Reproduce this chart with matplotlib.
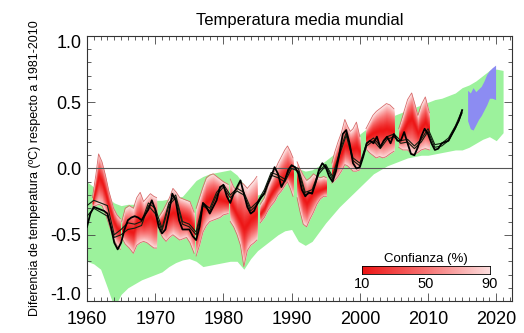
import numpy as np
import matplotlib
matplotlib.use("Agg")
import matplotlib.pyplot as plt
from matplotlib.colors import LinearSegmentedColormap
from matplotlib.ticker import MultipleLocator, FormatStrFormatter
from matplotlib.transforms import ScaledTranslation

plt.rcParams["font.family"] = ["Liberation Sans", "DejaVu Sans"]

# ----------------------------
# Data
# ----------------------------
GREEN_YEARS = list(range(1960, 2022))
GREEN_HIGH = [-0.10, -0.14, -0.18, -0.22, -0.26, -0.28, -0.27, -0.27, -0.26, -0.25,
              -0.24, -0.24, -0.23, -0.22, -0.21, -0.15, -0.09, -0.06, -0.04, -0.03,
              -0.02, -0.01, -0.05, -0.12, -0.18, -0.20, -0.18, -0.10, -0.04, 0.00,
              0.02, 0.00, -0.02, -0.01, 0.02, 0.06, 0.10, 0.15, 0.19, 0.22,
              0.26, 0.30, 0.33, 0.36, 0.38, 0.40, 0.42, 0.44, 0.46, 0.48,
              0.50, 0.52, 0.53, 0.55, 0.57, 0.61, 0.63, 0.66, 0.70, 0.74,
              0.75, 0.74]
GREEN_LOW = [-0.70, -0.72, -0.76, -0.90, -1.05, -0.95, -0.90, -0.87, -0.84, -0.82,
             -0.80, -0.78, -0.74, -0.71, -0.69, -0.68, -0.70, -0.74, -0.73, -0.72,
             -0.71, -0.70, -0.70, -0.76, -0.68, -0.62, -0.58, -0.54, -0.50, -0.47,
             -0.46, -0.55, -0.58, -0.55, -0.48, -0.41, -0.35, -0.29, -0.24, -0.19,
             -0.14, -0.09, -0.04, -0.01, 0.02, 0.04, 0.06, 0.08, 0.09, 0.10,
             0.10, 0.11, 0.12, 0.13, 0.14, 0.14, 0.16, 0.19, 0.22, 0.24,
             0.21, 0.27]

# red confidence patches, one sublist per forecast period
RED_YEARS = [
    [1960.8, 1961.3, 1961.7, 1962.2, 1962.7, 1963.2, 1963.9, 1964.4, 1964.9],
    [1965.1, 1965.6, 1966.2, 1966.8, 1967.3, 1967.8, 1968.3, 1968.8, 1969.3, 1969.8, 1970.2],
    [1970.6, 1971.1, 1971.6, 1972.1, 1972.6, 1973.1, 1973.6, 1974.1, 1974.6, 1975.1, 1975.7],
    [1976.0, 1976.5, 1977.0, 1977.5, 1978.0, 1978.5, 1979.0, 1979.5, 1980.0, 1980.7],
    [1981.0, 1981.5, 1982.0, 1982.5, 1983.0, 1983.5, 1984.0, 1984.5, 1984.9],
    [1985.4, 1986.0, 1986.5, 1987.0, 1987.5, 1988.0, 1988.5, 1989.0, 1989.4, 1989.8, 1990.2],
    [1990.8, 1991.2, 1991.7, 1992.2, 1992.7, 1993.2, 1993.7, 1994.2, 1994.7, 1995.1],
    [1995.9, 1996.3, 1996.8, 1997.3, 1997.8, 1998.2, 1998.6, 1999.0, 1999.5, 2000.0],
    [2000.9, 2001.4, 2001.9, 2002.4, 2002.9, 2003.4, 2003.9, 2004.4, 2005.0],
    [2005.7, 2006.3, 2007.0, 2007.6, 2008.1, 2008.5, 2009.0, 2009.6, 2010.2],
]
RED_HIGH = [
    [-0.22, -0.05, 0.11, 0.05, -0.05, -0.17, -0.30, -0.35, -0.38],
    [-0.40, -0.30, -0.28, -0.30, -0.22, -0.18, -0.25, -0.22, -0.19, -0.21, -0.22],
    [-0.36, -0.32, -0.27, -0.22, -0.15, -0.18, -0.22, -0.23, -0.24, -0.25, -0.33],
    [-0.30, -0.22, -0.14, -0.07, -0.05, -0.04, -0.06, -0.08, -0.10, -0.12],
    [-0.08, -0.14, -0.17, -0.10, -0.12, -0.15, -0.12, -0.09, -0.06],
    [-0.27, -0.22, -0.14, -0.08, -0.02, 0.04, 0.09, 0.14, 0.17, 0.13, 0.08],
    [0.05, 0.00, -0.05, -0.09, -0.07, -0.04, -0.06, -0.07, -0.06, -0.07],
    [0.04, 0.12, 0.20, 0.27, 0.37, 0.32, 0.28, 0.30, 0.35, 0.24],
    [0.30, 0.35, 0.40, 0.43, 0.45, 0.47, 0.49, 0.48, 0.45],
    [0.30, 0.40, 0.52, 0.57, 0.48, 0.40, 0.48, 0.54, 0.42],
]
RED_MID = [
    [-0.26, -0.15, -0.06, -0.10, -0.18, -0.28, -0.40, -0.45, -0.47],
    [-0.46, -0.45, -0.47, -0.48, -0.40, -0.38, -0.40, -0.38, -0.36, -0.39, -0.40],
    [-0.42, -0.40, -0.37, -0.35, -0.33, -0.34, -0.36, -0.37, -0.38, -0.40, -0.46],
    [-0.50, -0.40, -0.30, -0.25, -0.23, -0.22, -0.22, -0.23, -0.24, -0.25],
    [-0.25, -0.30, -0.35, -0.40, -0.45, -0.42, -0.38, -0.36, -0.34],
    [-0.34, -0.30, -0.24, -0.19, -0.15, -0.12, -0.09, -0.06, -0.04, -0.04, -0.04],
    [-0.08, -0.14, -0.22, -0.26, -0.22, -0.18, -0.17, -0.16, -0.15, -0.14],
    [-0.04, 0.02, 0.08, 0.12, 0.18, 0.17, 0.15, 0.15, 0.16, 0.13],
    [0.23, 0.25, 0.27, 0.28, 0.29, 0.29, 0.30, 0.29, 0.28],
    [0.24, 0.28, 0.35, 0.38, 0.32, 0.27, 0.31, 0.35, 0.30],
]
RED_LOW = [
    [-0.29, -0.28, -0.27, -0.28, -0.34, -0.42, -0.53, -0.58, -0.61],
    [-0.52, -0.57, -0.60, -0.64, -0.58, -0.56, -0.55, -0.56, -0.58, -0.60, -0.60],
    [-0.47, -0.52, -0.55, -0.52, -0.50, -0.52, -0.54, -0.53, -0.52, -0.56, -0.64],
    [-0.66, -0.58, -0.48, -0.43, -0.40, -0.39, -0.38, -0.37, -0.35, -0.34],
    [-0.40, -0.44, -0.50, -0.58, -0.74, -0.62, -0.58, -0.56, -0.54],
    [-0.41, -0.37, -0.32, -0.28, -0.25, -0.20, -0.17, -0.13, -0.10, -0.15, -0.21],
    [-0.22, -0.32, -0.42, -0.44, -0.38, -0.33, -0.27, -0.23, -0.21, -0.21],
    [-0.11, -0.09, -0.06, -0.02, 0.03, 0.02, 0.00, -0.02, -0.02, -0.01],
    [0.15, 0.12, 0.10, 0.08, 0.09, 0.08, 0.09, 0.11, 0.13],
    [0.16, 0.14, 0.14, 0.11, 0.11, 0.12, 0.14, 0.15, 0.14],
]

BLUE_YEARS = [2015.8, 2016.2, 2016.6, 2017.0, 2017.4, 2017.8, 2018.2, 2018.6, 2019.0, 2019.4, 2019.9]
BLUE_HIGH = [0.59, 0.57, 0.61, 0.58, 0.60, 0.62, 0.66, 0.71, 0.74, 0.76, 0.78]
BLUE_LOW = [0.36, 0.30, 0.29, 0.33, 0.37, 0.40, 0.44, 0.48, 0.53, 0.53, 0.52]

# observations: main series (half-year) and two others (yearly)
OBS_YEARS = [1960 + 0.5 * i for i in range(111)]
OBS_MAIN = [-0.44, -0.34, -0.29, -0.30, -0.31, -0.32, -0.34, -0.44, -0.56, -0.61,
            -0.56, -0.46, -0.39, -0.37, -0.36, -0.37, -0.39, -0.35, -0.31, -0.24,
            -0.31, -0.44, -0.49, -0.46, -0.34, -0.19, -0.24, -0.39, -0.46, -0.46,
            -0.46, -0.51, -0.54, -0.44, -0.26, -0.29, -0.34, -0.29, -0.24, -0.14,
            -0.125, -0.21, -0.26, -0.19, -0.14, -0.09, -0.19, -0.29, -0.34, -0.32,
            -0.26, -0.22, -0.19, -0.12, -0.06, 0.01, -0.04, -0.14, -0.09, -0.01,
            0.025, 0.01, -0.04, -0.16, -0.21, -0.18, -0.19, -0.11, -0.01, 0.04,
            0.01, -0.06, -0.10, -0.02, 0.11, 0.26, 0.29, 0.19, 0.04, 0.00,
            0.01, 0.09, 0.19, 0.21, 0.19, 0.24, 0.16, 0.21, 0.24, 0.19,
            0.26, 0.21, 0.21, 0.275, 0.19, 0.11, 0.10, 0.16, 0.24, 0.30,
            0.26, 0.19, 0.14, 0.15, 0.19, 0.20, 0.21, 0.26, 0.31, 0.36,
            0.44]
OBS_YEARS_B = list(range(1960, 2016))
OBS_B = [-0.36, -0.30, -0.33, -0.36, -0.52, -0.50, -0.46, -0.45, -0.43, -0.28,
         -0.34, -0.47, -0.28, -0.22, -0.42, -0.44, -0.50, -0.28, -0.32, -0.20,
         -0.14, -0.22, -0.17, -0.20, -0.32, -0.27, -0.18, -0.05, -0.07, -0.10,
         0.00, -0.02, -0.20, -0.18, -0.04, 0.02, -0.08, 0.10, 0.25, 0.06,
         0.02, 0.17, 0.21, 0.15, 0.22, 0.24, 0.19, 0.20, 0.15, 0.20,
         0.28, 0.16, 0.17, 0.21, 0.30, 0.42]
OBS_C = [-0.28, -0.24, -0.26, -0.28, -0.50, -0.46, -0.41, -0.42, -0.40, -0.26,
         -0.30, -0.45, -0.26, -0.20, -0.40, -0.42, -0.48, -0.26, -0.30, -0.18,
         -0.12, -0.20, -0.15, -0.18, -0.30, -0.25, -0.16, -0.03, -0.05, -0.08,
         0.02, 0.00, -0.18, -0.16, -0.02, 0.03, -0.06, 0.12, 0.27, 0.08,
         0.04, 0.19, 0.23, 0.17, 0.24, 0.26, 0.21, 0.22, 0.17, 0.22,
         0.30, 0.18, 0.19, 0.23, 0.32, 0.44]

Y_TICKS = [-1.0, -0.5, 0.0, 0.5, 1.0]
CONF_TICKS = [10, 50, 90]

red_cmap = LinearSegmentedColormap.from_list(
    "conf", [(0.93, 0.08, 0.08), (0.97, 0.45, 0.45), (0.99, 0.87, 0.87)])


def draw_patch(ax, x, hi, mid, lo, layers=24):
    x, hi, mid, lo = map(np.asarray, (x, hi, mid, lo))
    for i in range(layers):
        f = 1.0 - i / layers
        ax.fill_between(x, mid - f * (mid - lo), mid + f * (hi - mid),
                        color=red_cmap(f ** 1.3), lw=0, zorder=2)
    ax.plot(x, hi, color="#d86a6a", lw=0.6, zorder=2.5)
    ax.plot(x, lo, color="#d86a6a", lw=0.6, zorder=2.5)


def main():
    fig = plt.figure(figsize=(5.24, 3.33), dpi=100)
    ax = fig.add_axes([0.166, 0.096, 0.811, 0.796])

    ax.fill_between(GREEN_YEARS, GREEN_LOW, GREEN_HIGH, color="#9cf29c", lw=0, zorder=1)

    for x, hi, mid, lo in zip(RED_YEARS, RED_HIGH, RED_MID, RED_LOW):
        draw_patch(ax, x, hi, mid, lo)

    ax.fill_between(BLUE_YEARS, BLUE_LOW, BLUE_HIGH, color="#8c8cf2", lw=0, zorder=2)

    ax.axhline(0, color="#555555", lw=0.8, zorder=3)

    ax.plot(OBS_YEARS_B, OBS_B, color="#102010", lw=0.8, zorder=4)
    ax.plot(OBS_YEARS_B, OBS_C, color="#102010", lw=0.8, zorder=4)
    ax.plot(OBS_YEARS, OBS_MAIN, color="black", lw=1.3, zorder=5)

    ax.set_xlim(1960, 2022.3)
    ax.set_ylim(-1.0, 1.0)
    ax.xaxis.set_major_locator(MultipleLocator(10))
    ax.xaxis.set_minor_locator(MultipleLocator(1))
    ax.set_yticks(Y_TICKS)
    ax.yaxis.set_minor_locator(MultipleLocator(0.1))
    ax.yaxis.set_major_formatter(FormatStrFormatter("%.1f"))
    ax.tick_params(which="both", direction="in", top=True, right=True,
                   width=0.6, color="#444444")
    ax.tick_params(which="major", length=6, labelsize=13)
    ax.tick_params(axis="x", which="major", pad=7)
    ax.tick_params(axis="y", which="major", pad=4)
    ax.tick_params(which="minor", length=3)
    for s in ax.spines.values():
        s.set_linewidth(0.8)
        s.set_color("#333333")

    # end labels sit inside the axis range, as in the original
    ylabels = ax.get_yticklabels()
    ylabels[0].set_transform(ylabels[0].get_transform()
                             + ScaledTranslation(0, 0.08, fig.dpi_scale_trans))
    ylabels[-1].set_transform(ylabels[-1].get_transform()
                              + ScaledTranslation(0, -0.06, fig.dpi_scale_trans))

    ax.set_title("Temperatura media mundial", fontsize=12, pad=8)
    ax.set_ylabel("Diferencia de temperatura (ºC) respecto a 1981-2010",
                  fontsize=9.0, labelpad=7)

    # confidence colour bar
    cax = fig.add_axes([0.691, 0.177, 0.244, 0.024])
    grad = np.linspace(0, 1, 256).reshape(1, -1)
    cax.imshow(grad, aspect="auto", cmap=red_cmap, extent=[10, 90, 0, 1])
    cax.set_xticks(CONF_TICKS)
    cax.set_yticks([])
    cax.tick_params(length=0, labelsize=10.5, pad=2)
    cax.set_title("Confianza (%)", fontsize=9.5, pad=3)
    for s in cax.spines.values():
        s.set_linewidth(0.6)

    fig.savefig("out.png", dpi=100)


if __name__ == "__main__":
    main()
